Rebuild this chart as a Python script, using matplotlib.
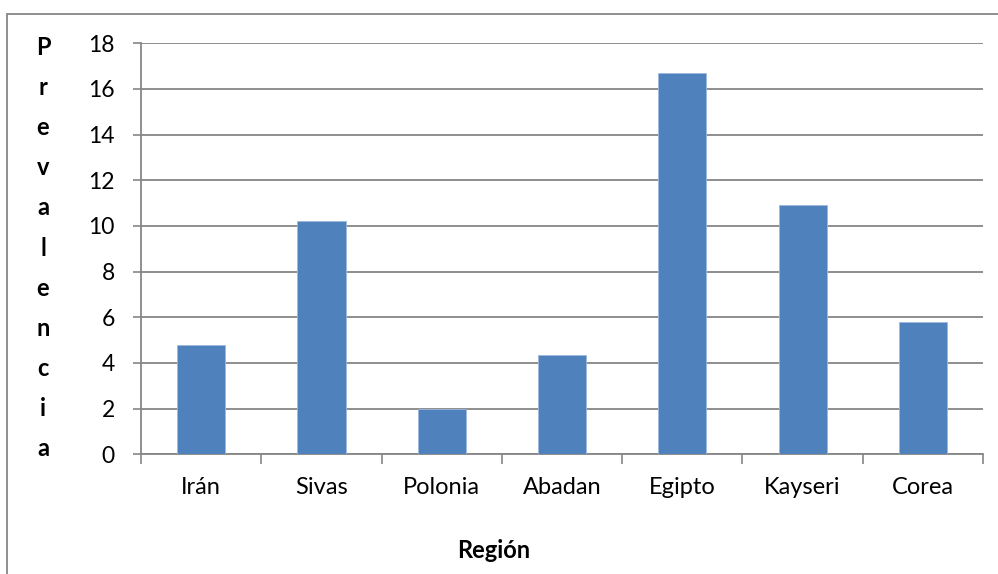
import matplotlib
matplotlib.use("Agg")
import matplotlib.pyplot as plt
from matplotlib.patches import Rectangle
import numpy as np

regiones = ["Irán", "Sivas", "Polonia", "Abadan", "Egipto", "Kayseri", "Corea"]
prevalencia = [4.8, 10.2, 2.0, 4.35, 16.7, 10.9, 5.8]
y_ticks = [0, 2, 4, 6, 8, 10, 12, 14, 16, 18]

plt.rcParams["font.family"] = ["Lato", "DejaVu Sans"]

bar_color = "#4F81BD"
grid_color = "#868686"
label_size = 17

fig = plt.figure(figsize=(9.98, 5.74), dpi=100)
ax = fig.add_axes([0.1413, 0.2085, 0.985 - 0.1413, 0.9246 - 0.2085])

x = np.arange(len(regiones))
ax.bar(x, prevalencia, width=0.4, color=bar_color, edgecolor="#9DB9DD",
       linewidth=0.6, zorder=3)

ax.set_xlim(-0.5, len(regiones) - 0.5)
ax.set_ylim(0, 18)
ax.set_yticks(y_ticks)
ax.set_yticklabels([str(v) for v in y_ticks], fontsize=16.5)
ax.set_xticks(x)
ax.set_xticklabels(regiones, fontsize=label_size)
ax.set_xticks(np.arange(-0.5, len(regiones) + 0.5, 1.0), minor=True)

ax.tick_params(axis="x", which="major", length=0, pad=16)
ax.tick_params(axis="x", which="minor", length=7, width=1.2, color=grid_color,
               direction="out")
ax.tick_params(axis="y", which="major", length=6, width=1.2, color=grid_color,
               direction="out", pad=13)

ax.yaxis.grid(True, color=grid_color, linewidth=1.3, zorder=0)
ax.set_axisbelow(True)
for side in ("top", "right"):
    ax.spines[side].set_visible(False)
for side in ("left", "bottom"):
    ax.spines[side].set_color(grid_color)
    ax.spines[side].set_linewidth(1.3)

ax.set_xlabel("Región", fontsize=label_size, fontweight="bold")
ax.xaxis.set_label_coords(0.419, -0.205)

# vertical title spelled letter by letter
fig.text(43 / 998, 1 - 36 / 574, "\n".join("Prevalencia"), ha="center", va="top",
         fontsize=label_size, fontweight="bold", linespacing=1.90)

# chart area frame
fig.patches.append(Rectangle((7 / 998, -0.1), 1.2, 1 - 13.5 / 574 + 0.1,
                             transform=fig.transFigure, fill=False,
                             edgecolor=grid_color, linewidth=1.3))

fig.savefig("out.png", dpi=100)
